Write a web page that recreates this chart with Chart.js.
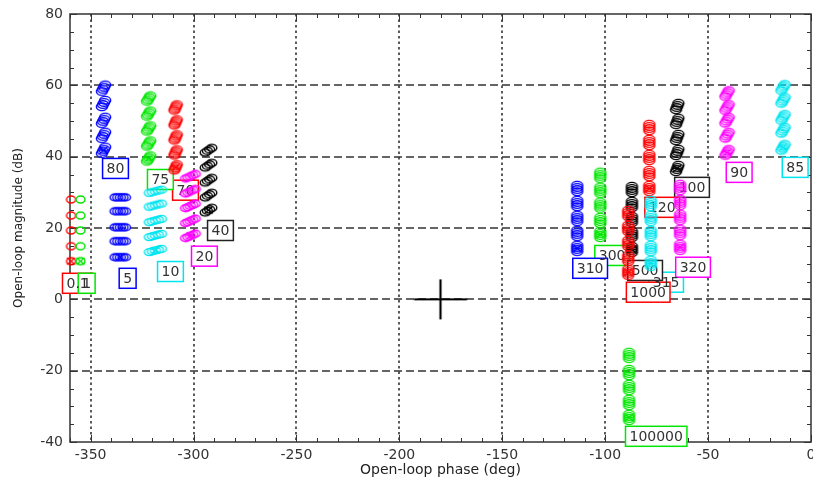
<!DOCTYPE html>
<html><head><meta charset="utf-8">
<script src="https://cdn.jsdelivr.net/npm/chart.js@4"></script>
<style>html,body{margin:0;padding:0;background:#fff;}canvas{display:block;}</style>
</head><body>
<canvas id="c" width="813" height="479"></canvas>
<script>
// ---- data ----
const freqLabels = ['0.1','1','5','10','20','40','70','75','80','85','90','100','120','300','310','315','320','500','1000','100000'];
// open-loop phase (deg) of each frequency cluster
const clusterPhase = [-359.5,-354.9,-335.6,-318.5,-301.5,-292.7,-308.7,-321.8,-343.7,-13.6,-40.8,-65.0,-78.6,-102.4,-113.6,-77.8,-63.6,-87.0,-88.8,-88.4];
// open-loop magnitudes (dB) of each cluster, bottom to top
const mag_0_1    = [10.7,14.9,19.3,23.5,28.0];
const mag_1      = [10.7,14.9,19.3,23.5,28.0];
const mag_5      = [11.8,16.3,20.2,24.7,28.6];
const mag_10     = [13.7,17.9,22.1,26.4,30.3];
const mag_20     = [17.8,22.0,26.2,30.3,34.5];
const mag_40     = [25.0,29.2,33.4,37.6,41.8];
const mag_70     = [37.0,41.2,45.4,49.6,53.8];
const mag_75     = [39.5,43.7,47.9,52.1,56.3];
const mag_80     = [41.8,46.0,50.2,54.9,59.2];
const mag_85     = [42.6,47.4,51.0,55.8,59.4];
const mag_90     = [41.2,46.0,50.2,53.8,57.7];
const mag_100    = [36.7,41.2,45.4,49.9,54.1];
const mag_120    = [31.1,35.3,39.8,44.0,48.2];
const mag_300    = [18.2,22.1,26.4,30.6,34.8];
const mag_310    = [14.3,18.5,22.7,26.9,31.1];
const mag_315    = [10.1,14.3,18.5,22.7,26.9];
const mag_320    = [14.6,18.8,23.0,27.2,31.4];
const mag_500    = [14.0,18.2,22.4,26.6,30.8];
const mag_1000   = [7.6,11.5,15.7,19.9,24.1];
const mag_100000 = [-33.1,-28.9,-24.7,-20.5,-15.7];
const clusterMags = [mag_0_1,mag_1,mag_5,mag_10,mag_20,mag_40,mag_70,mag_75,mag_80,mag_85,mag_90,mag_100,mag_120,mag_300,mag_310,mag_315,mag_320,mag_500,mag_1000,mag_100000];
// label anchors (phase, magnitude) for each frequency tag
const labelPhase = [-356.3,-351.9,-332.0,-311.2,-294.7,-286.9,-303.9,-316.1,-337.9,-7.7,-34.9,-57.8,-72.3,-96.6,-107.3,-70.4,-57.3,-80.6,-79.1,-75.2];
const labelMag   = [4.5,4.5,5.9,7.8,12.1,19.3,30.6,33.6,36.7,37.0,35.6,31.4,25.8,12.3,8.7,4.8,9.0,8.1,2.0,-38.4];
// critical point
const criticalPhase = [-180];
const criticalMag = [0];
// axis ticks
const xTickValues = [-350,-300,-250,-200,-150,-100,-50,0];
const yTickValues = [-40,-20,0,20,40,60,80];

// ---- styles ----
const colorCycle = ['#ff0000','#00e600','#0000ff','#00e5f0','#ff00ff','#000000'];
// marker group shape per cluster: [count, dx, dy, rx, ry]
const shapes = [
  [1,0,0,4.5,3.5],[1,0,0,4.5,3.5],[5,2.6,0,5,3.5],[5,3,-0.8,5,3.5],[5,2.4,-1.1,5,3.5],[4,2.2,-1.6,5,3.5],
  [4,0.8,-1.9,5.5,3.8],[4,1.1,-1.9,5.5,3.8],[4,1.1,-2.2,5.5,3.8],[4,1.1,-2,5.5,3.8],[4,1.1,-2,5.5,3.8],[4,0.8,-2.2,5.5,3.8],
  [4,0,-2.2,5.5,3.8],[4,0,-2.2,5.5,3.8],[4,0,-2.2,5.5,3.8],[4,0,-2.2,5.5,3.8],[4,0,-2.2,5.5,3.8],[4,0,-2.2,5.5,3.8],[4,0,-2.2,5.5,3.8],[4,0,-2.2,5.5,3.8]
];
function groupMarker(color, shape, withX){
  const [n,dx,dy,rx,ry] = shape;
  const w = Math.ceil(2*rx + Math.abs(dx)*(n-1) + 6);
  const h = Math.ceil(2*ry + Math.abs(dy)*(n-1) + 6);
  const c = document.createElement('canvas'); c.width = w; c.height = h;
  const g = c.getContext('2d');
  g.strokeStyle = color; g.lineWidth = 1.4;
  const cx = w/2, cy = h/2;
  for (let i=0;i<n;i++){
    const t = i-(n-1)/2;
    g.beginPath(); g.ellipse(cx+t*dx, cy+t*dy, rx, ry, 0, 0, Math.PI*2); g.stroke();
  }
  if (withX){
    g.beginPath(); g.moveTo(cx-4,cy-3.5); g.lineTo(cx+4,cy+3.5); g.moveTo(cx+4,cy-3.5); g.lineTo(cx-4,cy+3.5); g.stroke();
  }
  return c;
}
function crossMarker(){
  const c = document.createElement('canvas'); c.width = 56; c.height = 44;
  const g = c.getContext('2d'); g.strokeStyle = '#000'; g.lineWidth = 2.2;
  g.beginPath(); g.moveTo(1.5,22); g.lineTo(54.5,22); g.moveTo(28,2); g.lineTo(28,42); g.stroke();
  return c;
}

const N = freqLabels.length;
const datasets = freqLabels.map((f,i)=>{
  const col = colorCycle[i%6];
  const m0 = groupMarker(col, shapes[i], true);
  const m = groupMarker(col, shapes[i], false);
  return {
    label: f,
    data: clusterMags[i].map(v=>({x: clusterPhase[i], y: v})),
    pointStyle: clusterMags[i].map((v,k)=> k===0 ? m0 : m),
    pointRadius: 5, pointHoverRadius: 5,
    showLine: false, clip: false,
    order: N - i + 1
  };
});
datasets.push({
  label: 'critical',
  data: criticalPhase.map((p,i)=>({x:p, y:criticalMag[i]})),
  pointStyle: crossMarker(), pointRadius: 5, showLine:false, clip:false, order: 0
});

const framePlugin = {
  id: 'frame',
  beforeDatasetsDraw(chart){
    const {ctx, chartArea:a, scales:{x,y}} = chart;
    ctx.save();
    ctx.strokeStyle = '#333'; ctx.lineWidth = 1.6;
    ctx.setLineDash([2.5,3]);
    xTickValues.forEach(v=>{
      if (v<=x.min || v>=x.max) return;
      const px = Math.round(x.getPixelForValue(v));
      ctx.beginPath(); ctx.moveTo(px,a.top); ctx.lineTo(px,a.bottom); ctx.stroke();
    });
    ctx.setLineDash([8,4]);
    yTickValues.forEach(v=>{
      if (v<=y.min || v>=y.max) return;
      const py = Math.round(y.getPixelForValue(v));
      ctx.beginPath(); ctx.moveTo(a.left,py); ctx.lineTo(a.right,py); ctx.stroke();
    });
    ctx.setLineDash([]);
    ctx.lineWidth = 1.5; ctx.strokeStyle = '#333';
    ctx.strokeRect(a.left, a.top, a.right-a.left, a.bottom-a.top);
    ctx.lineWidth = 1;
    ctx.beginPath();
    for (let v = x.min; v <= x.max + 1e-6; v += 10){
      const px = Math.round(x.getPixelForValue(v)) + 0.5;
      const len = (Math.round(v) % 50 === 0) ? 7 : 4;
      ctx.moveTo(px, a.bottom); ctx.lineTo(px, a.bottom-len);
      ctx.moveTo(px, a.top); ctx.lineTo(px, a.top+len);
    }
    for (let v = y.min; v <= y.max + 1e-6; v += 5){
      const py = Math.round(y.getPixelForValue(v)) + 0.5;
      const len = (Math.round(v) % 20 === 0) ? 7 : 4;
      ctx.moveTo(a.left, py); ctx.lineTo(a.left+len, py);
      ctx.moveTo(a.right, py); ctx.lineTo(a.right-len, py);
    }
    ctx.stroke();
    // frequency tags
    ctx.font = '14px "DejaVu Sans"';
    ctx.textAlign = 'center'; ctx.textBaseline = 'middle';
    const boxes = freqLabels.map((t,i)=>{
      const cx = x.getPixelForValue(labelPhase[i]);
      const cy = y.getPixelForValue(labelMag[i]);
      const w = ctx.measureText(t).width + 8;
      return {t, cx, cy, w, col: colorCycle[i%6]};
    });
    ctx.lineWidth = 1.5;
    boxes.forEach(b=>{
      ctx.fillStyle = '#fff';
      ctx.fillRect(b.cx-b.w/2, b.cy-10, b.w, 20);
      ctx.strokeStyle = b.col === '#000000' ? '#222' : b.col;
      ctx.strokeRect(b.cx-b.w/2, b.cy-10, b.w, 20);
    });
    ctx.fillStyle = '#333';
    boxes.forEach(b=>{ ctx.fillText(b.t, b.cx, b.cy+1); });
    ctx.restore();
  },
  afterDraw(chart){
    const {ctx, chartArea:a} = chart;
    ctx.save();
    ctx.fillStyle = '#222';
    ctx.textAlign = 'center'; ctx.textBaseline = 'middle';
    ctx.font = '14px "DejaVu Sans"';
    ctx.fillText('Open-loop phase (deg)', (a.left+a.right)/2, 470);
    ctx.translate(19, (a.top+a.bottom)/2);
    ctx.rotate(-Math.PI/2);
    ctx.font = '12px "DejaVu Sans"';
    ctx.fillText('Open-loop magnitude (dB)', 0, 0);
    ctx.restore();
  }
};

new Chart(document.getElementById('c'), {
  type: 'scatter',
  data: { datasets },
  options: {
    responsive: false, animation: false, devicePixelRatio: 1, events: [],
    layout: { autoPadding: false, padding: { top: 14, right: 2, left: 0, bottom: 0 } },
    plugins: { legend: { display: false }, tooltip: { enabled: false } },
    scales: {
      x: {
        type: 'linear', min: -360, max: 0,
        grid: { display: false, drawTicks: false }, border: { display: false },
        afterBuildTicks: s => { s.ticks = xTickValues.map(v=>({value:v})); },
        afterFit: s => { s.height = 37; s.paddingLeft = 0; s.paddingRight = 0; },
        ticks: { padding: 5, color: '#333', font: { family: 'DejaVu Sans', size: 14 }, maxRotation: 0, autoSkip: false }
      },
      y: {
        type: 'linear', min: -40, max: 80,
        grid: { display: false, drawTicks: false }, border: { display: false },
        afterBuildTicks: s => { s.ticks = yTickValues.map(v=>({value:v})); },
        afterFit: s => { s.width = 70; s.paddingTop = 0; s.paddingBottom = 0; },
        ticks: { padding: 7, color: '#333', font: { family: 'DejaVu Sans', size: 14 }, autoSkip: false }
      }
    }
  },
  plugins: [framePlugin]
});
</script>
</body></html>
